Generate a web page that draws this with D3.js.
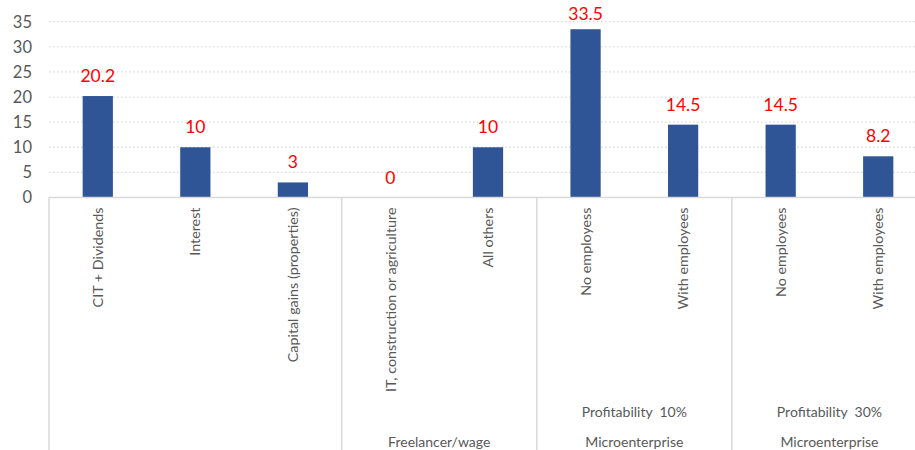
<!DOCTYPE html>
<html>
<head>
<meta charset="utf-8">
<script src="https://cdn.jsdelivr.net/npm/d3@7"></script>
<style>
  body { margin: 0; background: #fff; }
  svg { display: block; font-family: Lato, "Liberation Sans", sans-serif; }
</style>
</head>
<body>
<div id="chart"></div>
<script>
// chart data
var categories = ["CIT + Dividends", "Interest", "Capital gains (properties)",
  "IT, construction or agriculture", "All others",
  "No employess", "With employees", "No employees", "With employees"];
var values = [20.2, 10, 3, 0, 10, 33.5, 14.5, 14.5, 8.2];
var yTicks = [0, 5, 10, 15, 20, 25, 30, 35];

// second level of the category axis
var subLabels = ["Profitability  10%", "Profitability  30%"];
var subStart = [5, 7];
var subEnd = [6, 8];

// outer level of the category axis
var groupLabels = ["", "Freelancer/wage", "Microenterprise", "Microenterprise"];
var groupStart = [0, 3, 5, 7];
var groupEnd = [2, 4, 6, 8];

var width = 915, height = 450;
var plotLeft = 49, plotRight = 927, plotTop = 21.7, zeroY = 197.5;

var svg = d3.select("#chart").append("svg")
    .attr("width", width)
    .attr("height", height);

var x = d3.scaleBand()
    .domain(d3.range(categories.length))
    .range([plotLeft, plotRight])
    .paddingInner(0.69)
    .paddingOuter(0.345);

var y = d3.scaleLinear()
    .domain([0, 35])
    .range([zeroY, plotTop]);

// dotted gridlines
svg.selectAll("line.grid")
    .data(yTicks.filter(function(d) { return d > 0; }))
    .enter().append("line")
    .attr("class", "grid")
    .attr("x1", plotLeft)
    .attr("x2", plotRight)
    .attr("y1", function(d) { return y(d); })
    .attr("y2", function(d) { return y(d); })
    .attr("stroke", "#d9d9d9")
    .attr("stroke-width", 1.3)
    .attr("stroke-dasharray", "1.5,2.5");

// y labels
svg.selectAll("text.ytick")
    .data(yTicks)
    .enter().append("text")
    .attr("class", "ytick")
    .attr("x", 32)
    .attr("y", function(d) { return y(d); })
    .attr("dy", "0.36em")
    .attr("text-anchor", "end")
    .attr("font-size", "16.5px")
    .attr("fill", "#595959")
    .text(function(d) { return d; });

// bars
svg.selectAll("rect.bar")
    .data(values)
    .enter().append("rect")
    .attr("class", "bar")
    .attr("x", function(d, i) { return x(i); })
    .attr("width", x.bandwidth())
    .attr("y", function(d) { return y(d); })
    .attr("height", function(d) { return y(0) - y(d); })
    .attr("fill", "#2f5597");

// value labels (kept inside the top of the plot like excel does)
svg.selectAll("text.value")
    .data(values)
    .enter().append("text")
    .attr("class", "value")
    .attr("x", function(d, i) { return x(i) + x.bandwidth() / 2; })
    .attr("y", function(d) { return Math.max(y(d) - 14, 20); })
    .attr("text-anchor", "middle")
    .attr("font-size", "17.5px")
    .attr("fill", "#ff0000")
    .text(function(d) { return d; });

// category axis line
svg.append("line")
    .attr("x1", plotLeft).attr("x2", plotRight)
    .attr("y1", zeroY).attr("y2", zeroY)
    .attr("stroke", "#d9d9d9")
    .attr("stroke-width", 1.5);

// group separators running down to the bottom
var bounds = groupStart.map(function(s) { return x(s) - x.step() * x.paddingOuter(); });
svg.selectAll("line.sep")
    .data(bounds)
    .enter().append("line")
    .attr("class", "sep")
    .attr("x1", function(d) { return d; })
    .attr("x2", function(d) { return d; })
    .attr("y1", zeroY)
    .attr("y2", height)
    .attr("stroke", "#d9d9d9")
    .attr("stroke-width", 1.5);

// rotated category labels
svg.selectAll("text.cat")
    .data(categories)
    .enter().append("text")
    .attr("class", "cat")
    .attr("transform", function(d, i) {
      return "translate(" + (x(i) + x.bandwidth() / 2) + "," + (zeroY + 10) + ") rotate(-90)";
    })
    .attr("dy", "0.36em")
    .attr("text-anchor", "end")
    .attr("font-size", "14.3px")
    .attr("fill", "#595959")
    .text(function(d) { return d; });

function spanCenter(s, e) {
  return (x(s) + x(e) + x.bandwidth()) / 2;
}

svg.selectAll("text.sub")
    .data(subLabels)
    .enter().append("text")
    .attr("class", "sub")
    .attr("x", function(d, i) { return spanCenter(subStart[i], subEnd[i]); })
    .attr("y", 417)
    .attr("text-anchor", "middle")
    .attr("font-size", "14px")
    .attr("fill", "#595959")
    .style("white-space", "pre")
    .text(function(d) { return d; });

svg.selectAll("text.group")
    .data(groupLabels)
    .enter().append("text")
    .attr("class", "group")
    .attr("x", function(d, i) { return spanCenter(groupStart[i], groupEnd[i]); })
    .attr("y", 447)
    .attr("text-anchor", "middle")
    .attr("font-size", "14px")
    .attr("fill", "#595959")
    .text(function(d) { return d; });
</script>
</body>
</html>
